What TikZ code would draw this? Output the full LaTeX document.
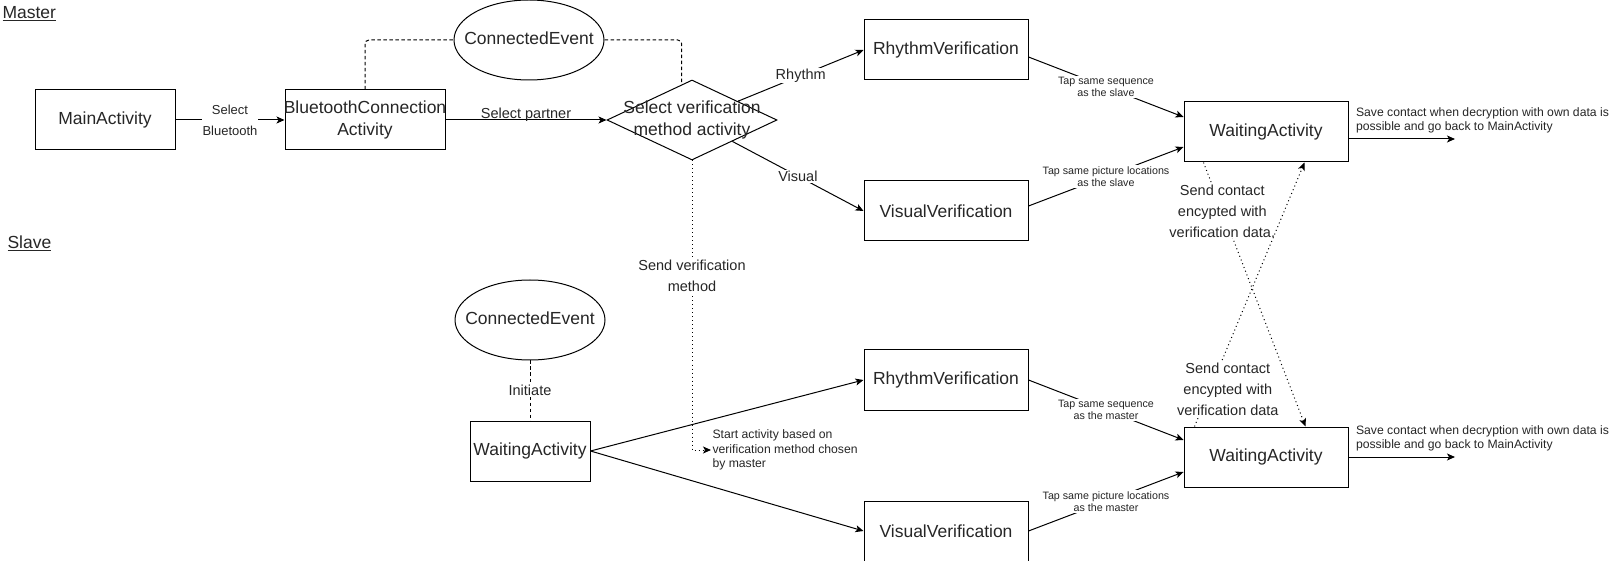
\documentclass[tikz,border=0pt]{standalone}
\usepackage{fontspec}
\setmainfont{Liberation Sans}
\usetikzlibrary{arrows.meta,positioning,shapes.geometric,calc}
\newcommand{\overhang}[1]{\makebox[0pt]{\begin{tabular}{@{}c@{}}#1\end{tabular}}}

\begin{document}
\begin{tikzpicture}[x=1pt, y=-1pt, line width=1pt, every node/.style={text=black!85}, box/.style={draw, minimum height=60pt, inner sep=0pt, font=\fontsize{17.5}{21.5}\selectfont}, event/.style={draw, ellipse, minimum width=150pt, minimum height=80pt, inner sep=0pt, font=\fontsize{17.5}{21.5}\selectfont}, decision/.style={draw, diamond, minimum width=170pt, minimum height=80pt, inner sep=0pt, font=\fontsize{17.5}{21.5}\selectfont}, arrow/.style={-{Stealth[length=8pt,width=7pt,inset=2pt]}}, dashline/.style={dash pattern=on 3.5pt off 2.5pt, rounded corners=4pt}, dotarrow/.style={arrow, dash pattern=on 1pt off 3pt}, elabel/.style={fill=white, inner sep=1pt, align=center, font=\fontsize{14.5}{21}\selectfont}, tinylabel/.style={fill=white, inner sep=1pt, align=center, font=\fontsize{10.7}{12.5}\selectfont}, note/.style={align=left, inner sep=1pt, font=\fontsize{12.2}{14.3}\selectfont}, heading/.style={anchor=base west, inner sep=0pt, font=\fontsize{17.5}{21}\selectfont}]
\useasboundingbox (0,0) rectangle (1615,561);
\node[heading] (master) at (2,19) {\underline{Master}};
\node[heading] (slave) at (7,249) {\underline{Slave}};
% master side
\node[box, minimum width=140pt] (main) at (105,120) {MainActivity};
\node[box, minimum width=160pt, right=109pt of main] (btconn) {\overhang{BluetoothConnection\\Activity}};
\node[decision, right=161pt of btconn] (select) {\overhang{Select verification\\method activity}};
\node[event] (connM) at (529,40) {\overhang{ConnectedEvent}};
\node[box, minimum width=164pt] (rhythmM) at (946,50) {RhythmVerification};
\node[box, minimum width=164pt, below=100pt of rhythmM] (visualM) {VisualVerification};
\node[box, minimum width=164pt] (waitM) at (1266,132) {WaitingActivity};
\coordinate (doneM) at (1455,139);
% slave side
\node[event] (connS) at (530,320) {\overhang{ConnectedEvent}};
\node[box, minimum width=120pt, below=60pt of connS] (waitS) {WaitingActivity};
\node[note, anchor=west] (startnote) at (711,450) {Start activity based on\\verification method chosen\\by master};
\node[box, minimum width=164pt] (rhythmS) at (946,380) {RhythmVerification};
\node[box, minimum width=164pt, below=90pt of rhythmS] (visualS) {VisualVerification};
\node[box, minimum width=164pt] (waitS2) at (1266,457) {WaitingActivity};
\coordinate (doneS) at (1455,457);
% connectors
\draw[arrow] (main) -- (btconn) node[elabel, midway, font=\fontsize{13}{21}\selectfont] {Select\\Bluetooth};
\draw[arrow] (btconn) -- (select) node[midway, above, inner sep=0pt, yshift=-2pt, font=\fontsize{14.5}{21}\selectfont] {Select partner};
\draw[dashline] (btconn.north) |- (connM.west);
\draw[dashline] (connM.east) -| ($(select.north)!0.12!(select.west)$);
\draw[arrow] (select) -- (rhythmM.west) node[elabel, midway] {Rhythm};
\draw[arrow] (select) -- (visualM.west) node[elabel, midway] {Visual};
\draw[dotarrow] (select.south) |- (startnote.west) node[elabel, pos=0.2] {Send verification\\method};
\draw[arrow] ([yshift=-7pt]rhythmM.east) -- ([yshift=15pt]waitM.west) node[tinylabel, midway] {Tap same sequence\\as the slave};
\draw[arrow] ([yshift=5pt]visualM.east) -- ([yshift=-15pt]waitM.west) node[tinylabel, midway] {Tap same picture locations\\as the slave};
\draw[arrow] ([yshift=-7pt]waitM.east) -- (doneM) node[note, pos=0, anchor=south west, xshift=6pt, yshift=4pt] {Save contact when decryption with own data is\\possible and go back to MainActivity};
\draw[dashline] (connS) -- (waitS) node[elabel, midway] {Initiate};
\draw[arrow] (waitS.east) -- (rhythmS.west);
\draw[arrow] (waitS.east) -- (visualS.west);
\draw[arrow] (rhythmS.east) -- ([yshift=17pt]waitS2.west) node[tinylabel, midway] {Tap same sequence\\as the master};
\draw[arrow] (visualS.east) -- ([yshift=-15pt]waitS2.west) node[tinylabel, midway] {Tap same picture locations\\as the master};
\draw[arrow] (waitS2.east) -- (doneS) node[note, pos=0, anchor=south west, xshift=6pt, yshift=4pt] {Save contact when decryption with own data is\\possible and go back to MainActivity};
\draw[dotarrow] ([xshift=20pt]waitM.south west) -- ([xshift=122pt]waitS2.north west) node[elabel, pos=0.184] {Send contact\\encypted with\\verification data.};
\draw[dotarrow] ([xshift=11pt]waitS2.north west) -- ([xshift=121pt]waitM.south west) node[elabel, pos=0.139, xshift=18pt] {Send contact\\encypted with\\verification data};
\end{tikzpicture}
\end{document}
